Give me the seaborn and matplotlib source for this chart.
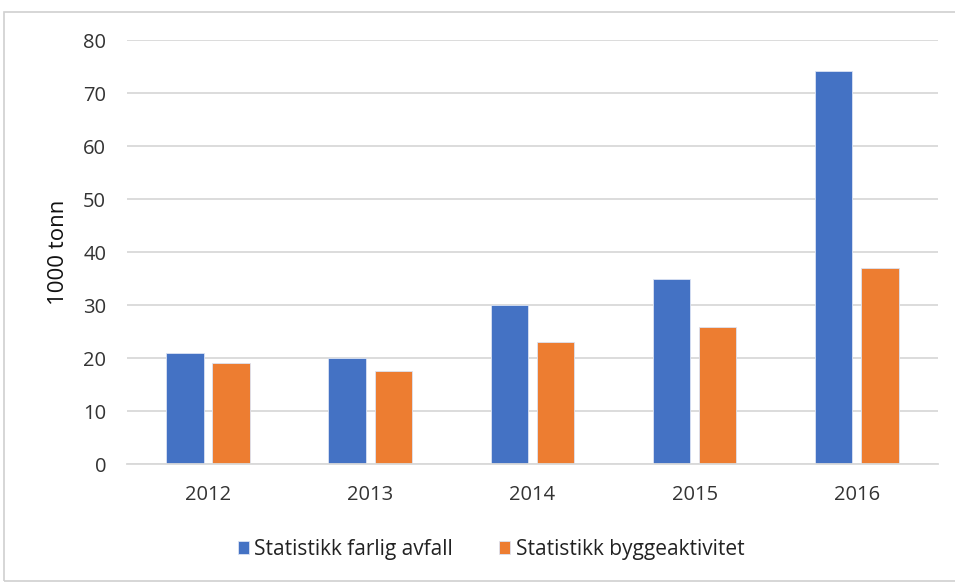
import numpy as np
import pandas as pd
import seaborn as sns
import matplotlib.pyplot as plt
from matplotlib.patches import Rectangle

# Values (1000 tonn)
years = ["2012", "2013", "2014", "2015", "2016"]
farlig_avfall = [21.0, 20.0, 30.0, 35.0, 74.1]
byggeaktivitet = [19.0, 17.6, 23.1, 25.8, 37.1]
series = ["Statistikk farlig avfall", "Statistikk byggeaktivitet"]

df = pd.DataFrame({
    "year": years * 2,
    "value": farlig_avfall + byggeaktivitet,
    "series": [series[0]] * len(years) + [series[1]] * len(years),
})

sns.set_style("white")
plt.rcParams["font.family"] = ["Open Sans", "DejaVu Sans"]

fig = plt.figure(figsize=(9.55, 5.83), dpi=100)
ax = fig.add_axes([0.133, 0.204, 0.849, 0.727])

sns.barplot(data=df, x="year", y="value", hue="series",
            palette=["#4472C4", "#ED7D31"], saturation=1, width=0.57, gap=0.19,
            edgecolor="#dbe3f3", linewidth=0.6, ax=ax, legend=True)

ax.set_ylim(0, 80)
ax.set_yticks(range(0, 81, 10))
ax.set_xlim(-0.5, len(years) - 0.5)
ax.yaxis.grid(True, color="#d9d9d9", linewidth=1.3)
ax.set_axisbelow(True)
for s in ["top", "right", "left"]:
    ax.spines[s].set_visible(False)
ax.spines["bottom"].set_color("#d9d9d9")
ax.spines["bottom"].set_linewidth(1.3)

ax.tick_params(axis="y", length=0, pad=15, labelsize=14.5, labelcolor="#333333")
ax.tick_params(axis="x", length=0, pad=15, labelsize=14.5, labelcolor="#333333")
ax.set_xlabel("")
ax.set_ylabel("1000 tonn", fontsize=16, color="#111111", labelpad=10)

ax.legend_.remove()
handles, labels = ax.get_legend_handles_labels()
fig.legend(handles, labels, loc="center", bbox_to_anchor=(0.514, 0.058),
           ncol=2, frameon=False, fontsize=15, handlelength=0.55,
           handleheight=0.55, handletextpad=0.25, columnspacing=2.2,
           labelcolor="#222222")

# light chart border
fig.patches.append(Rectangle((0.004, 0.004), 1.2, 0.975, transform=fig.transFigure,
                             fill=False, edgecolor="#d0d0d0", linewidth=1.2))

fig.savefig("out.png", dpi=100)
